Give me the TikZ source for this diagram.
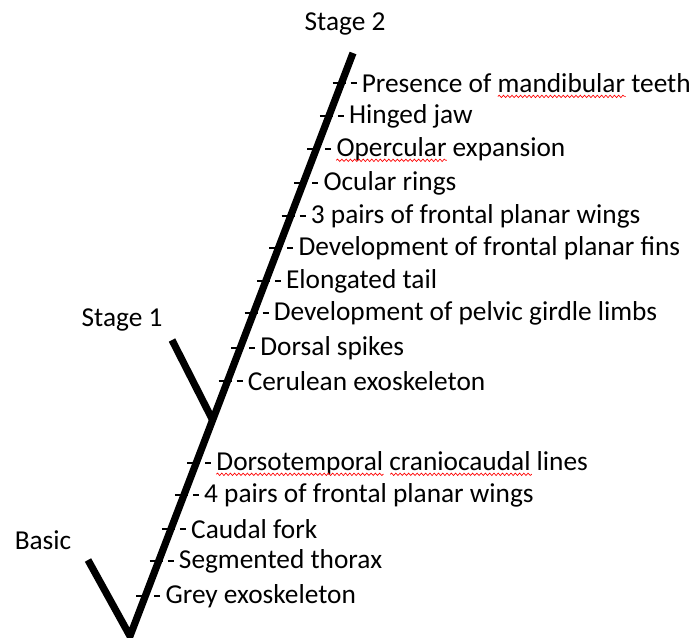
\documentclass[tikz,border=0pt]{standalone}
\usepackage{fontspec}
\setmainfont{Carlito}
\usetikzlibrary{calc,decorations.pathmorphing}
\tikzset{
    branch/.style={line width=5.4pt,line cap=butt,line join=miter},
    tick/.style={line width=1.4pt},
    trait/.style={anchor=west,inner sep=0pt,font=\fontsize{20.5}{24}\selectfont},
    stage/.style={inner sep=0pt,font=\fontsize{20.5}{24}\selectfont},
    spell/.style={red,line width=0.5pt,decorate,
        decoration={snake,segment length=3.2,amplitude=0.9}}
}

\begin{document}
\begin{tikzpicture}[x=0.75pt,y=-0.75pt]
    \useasboundingbox (0,0) rectangle (691,637);

    \coordinate (root) at (130,636);
    \coordinate (top) at (353,53);
    \coordinate (basic end) at (88,560);
    \coordinate (fork) at ($(root)!{216/583}!(top)$);
    \coordinate (stage1 end) at (172,340);

    \draw[branch] (basic end) -- (root) -- (top);
    \draw[branch] (stage1 end) -- (fork);

    \node[stage] (stage2) at (345,24) {Stage 2};
    \node[stage] (stage1) at (122,320) {Stage 1};
    \node[stage] (basic) at (43,540) {Basic};

    \foreach \ty/\txt [count=\i] in {
        83/Presence of mandibular teeth,
        116/Hinged jaw,
        149/Opercular expansion,
        183/Ocular rings,
        216/3 pairs of frontal planar wings,
        248/Development of frontal planar fins,
        281/Elongated tail,
        313/Development of pelvic girdle limbs,
        348/Dorsal spikes,
        381/Cerulean exoskeleton,
        463/Dorsotemporal craniocaudal lines,
        495/4 pairs of frontal planar wings,
        529/Caudal fork,
        561/Segmented thorax,
        596/Grey exoskeleton}{
        \coordinate (m\i) at ($(root)!{(636-\ty)/583}!(top)$);
        \draw[tick] ($(m\i)+(-9,0)$) -- ($(m\i)+(4,0)$);
        \draw[tick] ($(m\i)+(9,0)$) -- ($(m\i)+(15,0)$);
        \node[trait] (t\i) at ($(m\i)+(20,0)$) {\txt};
    }

    % spell-check waves
    \node[trait,anchor=base west] (p1) at (t1.base west) {\phantom{Presence of }};
    \node[trait,anchor=base west] (w1) at (p1.base east) {\phantom{mandibular}};
    \node[trait,anchor=base west] (w3) at (t3.base west) {\phantom{Opercular}};
    \node[trait,anchor=base west] (w11) at (t11.base west) {\phantom{Dorsotemporal}};
    \node[trait,anchor=base west] (q11) at (w11.base east) {\phantom{ }};
    \node[trait,anchor=base west] (v11) at (q11.base east) {\phantom{craniocaudal}};
    \foreach \w in {w1,w3,w11,v11}
        \draw[spell] ($(\w.base west)+(0,4)$) -- ($(\w.base east)+(0,4)$);
\end{tikzpicture}
\end{document}
